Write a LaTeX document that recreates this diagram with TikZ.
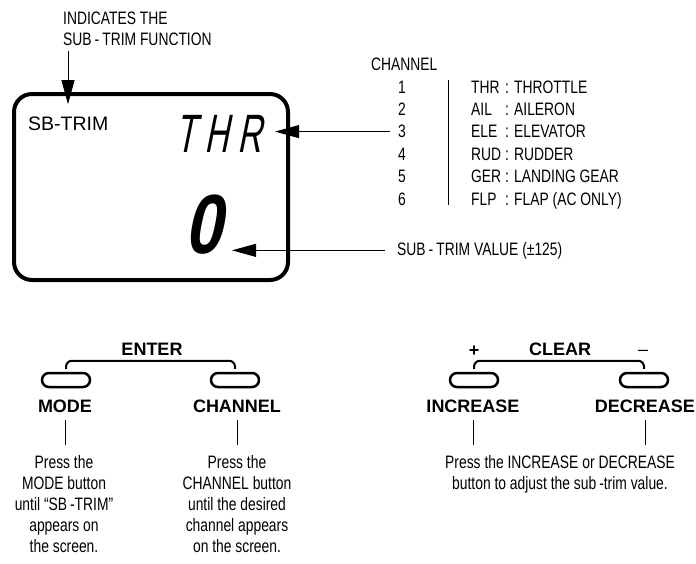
\documentclass[tikz,border=0pt]{standalone}
\usepackage{fontspec}
\setmainfont{Liberation Sans}
\newfontfamily\condfont[FakeStretch=0.77]{Liberation Sans}
\newfontfamily\segfont[FakeSlant=0.2,FakeStretch=0.62]{Liberation Sans}
\newfontfamily\segbold[FakeSlant=0.2,FakeStretch=0.8]{Liberation Sans}
\usetikzlibrary{arrows.meta,positioning}

\begin{document}
\begin{tikzpicture}[
  x=1pt, y=-1pt,
  cond/.style={font=\condfont\fontsize{18}{21}\selectfont, inner sep=0pt, anchor=base},
  blbl/.style={font=\bfseries\fontsize{18}{21}\selectfont, inner sep=0pt, anchor=base},
  lcdbox/.style={draw, line width=4pt, rounded corners=18pt},
  btn/.style={draw, line width=2.5pt, rounded corners=7pt, minimum width=48pt, minimum height=14pt, inner sep=0pt},
  brk/.style={line width=2pt, rounded corners=6pt},
  ptr/.style={line width=0.8pt, -{Triangle[length=24pt,width=13pt]}},
  tick/.style={line width=0.8pt}
]
\useasboundingbox (0,0) rectangle (696,563);

%============ DISPLAY ============
\node[lcdbox, minimum width=274pt, minimum height=186pt] (lcd) at (151,187) {};
\node[font=\fontsize{19.5}{24}\selectfont, inner sep=0pt, anchor=base west] (sbt) at (28,130) {SB-TRIM};
\node[font=\segfont\fontsize{54}{60}\selectfont, inner sep=0pt, anchor=base west] (thr) at (175,152) {T\kern9pt H\kern9pt R};
\node[font=\segbold\bfseries\fontsize{84}{90}\selectfont, inner sep=0pt, anchor=base west] (val0) at (184,253) {0};

% function note
\node[cond, anchor=north west, align=left] (ind) at (63,12) {INDICATES THE\\SUB\,-\,TRIM FUNCTION};
\draw[ptr] ([shift={(5,5)}]ind.south west) -- ++(0,53);

%============ CHANNEL LIST ============
\node[cond, anchor=base west] (chhead) at (371,70) {CHANNEL};
\foreach \n/\ab/\ds in {1/THR/THROTTLE, 2/AIL/AILERON, 3/ELE/ELEVATOR, 4/RUD/RUDDER, 5/GER/LANDING GEAR, 6/FLP/FLAP (AC ONLY)} {
  \node[cond, inner xsep=8pt] (ch\n) at (402,{93+22.4*(\n-1)}) {\n};
  \node[cond, anchor=base west] (ab\n) at (471,{93+22.4*(\n-1)}) {\ab};
  \node[cond, anchor=base west] (ds\n) at (505,{93+22.4*(\n-1)}) {: \ds};
}
\draw[tick] (448,80) -- (448,205);
\draw[ptr] (ch3.west) -- (ch3.west -| 275,0);

% value note
\node[cond, anchor=base west] (valtxt) at (397,255) {SUB\,-\,TRIM VALUE (±125)};
\draw[ptr] ([xshift=-12pt]valtxt.west) -- (valtxt.west -| 232,0);

%============ ENTER ============
\node[blbl] (enter) at (152,355) {ENTER};
\node[btn] (mode) at (66,380) {};
\node[btn] (chan) at (235,380) {};
\draw[brk] ([yshift=3pt]mode.north) -- ++(0,-8) -| ([yshift=3pt]chan.north);
\node[blbl] (modelbl) at (65,412) {MODE};
\node[blbl] (chanlbl) at (237,412) {CHANNEL};
\draw[tick] ([yshift=-8pt]modelbl.south) -- ++(0,25);
\draw[tick] ([yshift=-8pt]chanlbl.south) -- ++(0,25);
\node[cond, anchor=north, align=center] (modetxt) at (64,455)
  {Press the\\MODE button\\until “SB\,-TRIM”\\appears on\\the screen.};
\node[cond, anchor=north, align=center] (chantxt) at (237,455)
  {Press the\\CHANNEL button\\until the desired\\channel appears\\on the screen.};

%============ CLEAR ============
\node[blbl] (clear) at (560,355) {CLEAR};
\node[blbl] (plus) at (474,356) {+};
\node[font=\fontsize{18}{21}\selectfont, inner sep=0pt, anchor=base] (minus) at (643,355) {–};
\node[btn] (inc) at (474,380) {};
\node[btn] (dec) at (644,380) {};
\draw[brk] ([yshift=3pt]inc.north) -- ++(0,-8) -| ([yshift=3pt]dec.north);
\node[blbl] (inclbl) at (473,412) {INCREASE};
\node[blbl] (declbl) at (645,412) {DECREASE};
\draw[tick] ([yshift=-8pt]inclbl.south) -- ++(0,25);
\draw[tick] ([yshift=-8pt]declbl.south) -- ++(0,25);
\node[cond, anchor=north, align=center] (adjtxt) at (560,455)
  {Press the INCREASE or DECREASE\\button to adjust the sub\,-trim value.};

\end{tikzpicture}
\end{document}
